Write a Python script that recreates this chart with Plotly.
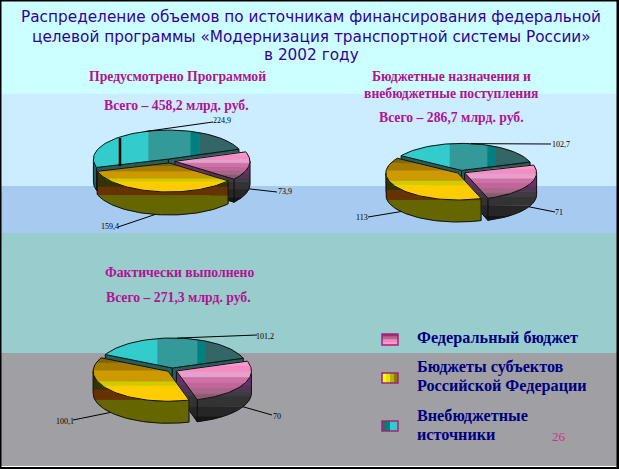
import math
import plotly.graph_objects as go

# ---------- data ----------
categories = ["Федеральный бюджет", "Бюджеты субъектов Российской Федерации", "Внебюджетные источники"]
programme_values = [73.9, 159.4, 224.9]
assigned_values = [71, 113, 102.7]
actual_values = [70, 100.1, 101.2]
programme_labels = ["73,9", "159,4", "224,9"]
assigned_labels = ["71", "113", "102,7"]
actual_labels = ["70", "100,1", "101,2"]

title_lines = [
    "Распределение объемов по источникам финансирования федеральной",
    "целевой программы «Модернизация транспортной системы России»",
    "в 2002 году",
]
W, H = 619, 469

# ---------- styles ----------
PINK_TOP = [("#ff99cc", 1), ("#f58cc4", 1), ("#e6a0cc", 1), ("#d070a8", 1), ("#c06699", 1), ("#a86688", 1), ("#8a5a70", 1)]
PINK_SIDE = [("#663366", 3), ("#553355", 1), ("#403a44", 1), ("#333333", 2), ("#262626", 2), ("#161616", 1)]
GOLD_TOP = [("#806600", 12), ("#a67c00", 18), ("#cc9900", 25), ("#cccc00", 10), ("#ffcc00", 35)]
GOLD_SIDE = [("#333300", 36), ("#663300", 20), ("#666600", 44)]
TEAL_TOP = [("#33cccc", 38), ("#339999", 29), ("#008080", 6), ("#336666", 27)]
TEAL_SIDE = [("#225f5f", 1)]
PALETTE = [(PINK_TOP, PINK_SIDE, 1), (GOLD_TOP, GOLD_SIDE, 1), (TEAL_TOP, TEAL_SIDE, 0)]
PIES = [
    dict(vals=programme_values, labs=programme_labels, cx=170, cy=161, rx=75, ry=29, depth=23, start=20, e=5,
         pts=[(277, 192), (118, 227), (213, 122)], txt=[(285, 191), (110, 226), (222, 120)]),
    dict(vals=assigned_values, labs=assigned_labels, cx=461, cy=172, rx=72, ry=27, depth=22, start=18, e=4,
         pts=[(555, 212), (368, 217), (551, 144)], txt=[(559, 212), (362, 217), (561, 144)]),
    dict(vals=actual_values, labs=actual_labels, cx=172, cy=370, rx=75, ry=30, depth=22, start=19, e=5,
         pts=[(272, 415), (73, 420), (257, 335)], txt=[(277, 416), (65, 421), (265, 336)]),
]


def arc(cx, cy, rx, ry, a0, a1, n=60):
    return [(cx + rx * math.cos(math.radians(a0 + (a1 - a0) * i / n)),
             cy - ry * math.sin(math.radians(a0 + (a1 - a0) * i / n))) for i in range(n + 1)]


def clip(poly, axis, lo, hi):
    def half(pts, keep, cut):
        out = []
        for i, p in enumerate(pts):
            q = pts[(i + 1) % len(pts)]
            kp, kq = keep(p), keep(q)
            if kp:
                out.append(p)
            if kp != kq:
                s = (cut - p[axis]) / (q[axis] - p[axis])
                out.append((p[0] + s * (q[0] - p[0]), p[1] + s * (q[1] - p[1])))
        return out
    res = half(poly, lambda p: p[axis] >= lo, lo)
    return half(res, lambda p: p[axis] <= hi, hi) if res else res


fig = go.Figure()


def fill(poly, color):
    if len(poly) < 3:
        return
    xs, ys = zip(*(list(poly) + [poly[0]]))
    fig.add_trace(go.Scatter(x=xs, y=ys, mode="lines", fill="toself", fillcolor=color,
                             line=dict(color=color, width=0.5), hoverinfo="skip", showlegend=False))


def outline(poly, closed=True, width=1, color="#111111"):
    pts = list(poly) + ([poly[0]] if closed else [])
    xs, ys = zip(*pts)
    fig.add_trace(go.Scatter(x=xs, y=ys, mode="lines", line=dict(color=color, width=width),
                             hoverinfo="skip", showlegend=False))


def stripes(poly, bands, axis):
    if len(poly) < 3:
        return
    lo = min(p[axis] for p in poly)
    hi = max(p[axis] for p in poly)
    total = sum(w for _, w in bands)
    pos = 0
    for color, w in bands:
        a = lo + (hi - lo) * pos / total
        b = lo + (hi - lo) * (pos + w) / total
        fill(clip(poly, axis, a - 0.1, b + 0.1), color)
        pos += w


def draw_slice(ox, oy, rx, ry, d, a0, a1, top, side, axis):
    rad = lambda a: (ox + rx * math.cos(math.radians(a)), oy - ry * math.sin(math.radians(a)))
    # outer wall: only the part on the near half of the rim
    for k in (0, -360):
        w0, w1 = min(a0, k), max(a1, k - 180)
        if w0 > w1:
            rim = arc(ox, oy, rx, ry, w0, w1)
            wall = rim + [(x, y + d) for x, y in reversed(rim)]
            stripes(wall, side, 1)
            outline(wall)
    # cut faces turned to the viewer
    for a, out in ((a0, a0 + 90), (a1, a1 - 90)):
        if math.sin(math.radians(out)) < 0:
            e = rad(a)
            face = [(ox, oy), e, (e[0], e[1] + d), (ox, oy + d)]
            stripes(face, side, 1)
            outline(face)
    poly = [(ox, oy)] + arc(ox, oy, rx, ry, a0, a1)
    stripes(poly, top, axis)
    outline(poly)


for pie in PIES:
    total = sum(pie["vals"])
    a = pie["start"]
    spans = []
    for v in pie["vals"]:
        spans.append((a, a - 360 * v / total))
        a -= 360 * v / total
    centres = []
    for a0, a1 in spans:
        m = math.radians((a0 + a1) / 2)
        centres.append((pie["cx"] + pie["e"] * math.cos(m),
                        pie["cy"] - pie["e"] * 0.4 * math.sin(m)))
    for i in (2, 0, 1):  # back slice first, gold in front of the pink cut face
        a0, a1 = spans[i]
        top, side, axis = PALETTE[i]
        draw_slice(*centres[i], pie["rx"], pie["ry"], pie["depth"], a0, a1, top, side, axis)
    for i, (a0, a1) in enumerate(spans):
        m = math.radians((a0 + a1) / 2)
        ax = centres[i][0] + pie["rx"] * math.cos(m)
        ay = centres[i][1] - pie["ry"] * math.sin(m) + (pie["depth"] if math.sin(m) < 0 else 0)
        outline([(ax, ay), pie["pts"][i]], closed=False, width=1, color="#000000")
        fig.add_annotation(x=pie["txt"][i][0], y=pie["txt"][i][1], text=pie["labs"][i], showarrow=False,
                           font=dict(family="Liberation Serif", size=8, color="#000000"))

# thick dark seam on the large back slice of the first pie
fig.add_shape(type="line", x0=120, x1=120, y0=138, y1=166, line=dict(color="#000000", width=2.5))

# ---------- background ----------
bands = [(0, 94, "#ccffff"), (94, 186, "#ccecff"), (186, 233, "#a6caf0"), (233, 353, "#99cccc"), (353, 466, "#a0a0a4")]
for y0, y1, c in bands:
    fig.add_shape(type="rect", x0=0, x1=W, y0=y0, y1=y1, fillcolor=c, line_width=0, layer="below")
fig.add_shape(type="rect", x0=0, x1=W, y0=466, y1=469, fillcolor="#ffffff", line_width=0, layer="below")
for x0, y0, x1, y1 in [(0, 0, 1.5, 468), (0, 0, 619, 1.5), (616.5, 0, 619, 468), (0, 467, 619, 469)]:
    fig.add_shape(type="rect", x0=x0, x1=x1, y0=y0, y1=y1, fillcolor="#000000", line_width=0)

# ---------- text ----------
def text(x, y, s, family, size, color, anchor="center", bold=False):
    fig.add_annotation(x=x, y=y, text=f"<b>{s}</b>" if bold else s, showarrow=False, xanchor=anchor,
                       font=dict(family=family, size=size, color=color))


for y, line in zip((17, 37, 55), title_lines):
    text(311, y, line, "DejaVu Sans", 15.3, "#330099")

MAG = "#b0148f"
for x, y, s in [(177, 76, "Предусмотрено Программой"), (176, 105, "Всего – 458,2 млрд. руб."),
                (451, 76, "Бюджетные назначения и"), (451, 93, "внебюджетные поступления"),
                (451, 117, "Всего – 286,7 млрд. руб."),
                (179, 272, "Фактически выполнено"), (178, 297, "Всего – 271,3 млрд. руб.")]:
    text(x, y, s, "Liberation Serif", 13.7, MAG, bold=True)

NAVY = "#000080"
for y, s in [(338, "Федеральный бюджет"), (367, "Бюджеты субъектов"), (386, "Российской Федерации"),
             (416, "Внебюджетные"), (435, "источники")]:
    text(414.5, y, s, "Liberation Serif", 16.2, NAVY, anchor="left", bold=True)
text(559, 436, "26", "Liberation Serif", 13, "#cc2f8f")

# ---------- legend swatches ----------
SWATCHES = [
    (334, 345, 1, ["#993366", "#c0608f", "#ff80c0", "#ff99cc"]),
    (373, 383, 0, ["#ffff00", "#e6e600", "#b3b300", "#808000"]),
    (421, 431, 0, ["#336666", "#008080", "#33cccc", "#33cccc"]),
]
for y0, y1, ax, cols in SWATCHES:
    n = len(cols)
    for i, c in enumerate(cols):
        if ax == 1:
            fig.add_shape(type="rect", x0=382, x1=398, y0=y0 + (y1 - y0) * i / n, y1=y0 + (y1 - y0) * (i + 1) / n,
                          fillcolor=c, line_width=0)
        else:
            fig.add_shape(type="rect", y0=y0, y1=y1, x0=382 + 16 * i / n, x1=382 + 16 * (i + 1) / n,
                          fillcolor=c, line_width=0)
    fig.add_shape(type="rect", x0=382, x1=398, y0=y0, y1=y1, line=dict(color="#a5207f", width=1.5))

fig.update_layout(
    width=W, height=H, margin=dict(l=0, r=0, t=0, b=0, pad=0),
    paper_bgcolor="#ffffff", plot_bgcolor="#ffffff", showlegend=False,
    xaxis=dict(range=[0, W], visible=False, fixedrange=True),
    yaxis=dict(range=[H, 0], visible=False, fixedrange=True),
)
fig.write_html("out.html", config={"displayModeBar": False},
               post_script="document.body.style.margin='0';document.body.style.overflow='hidden';")
